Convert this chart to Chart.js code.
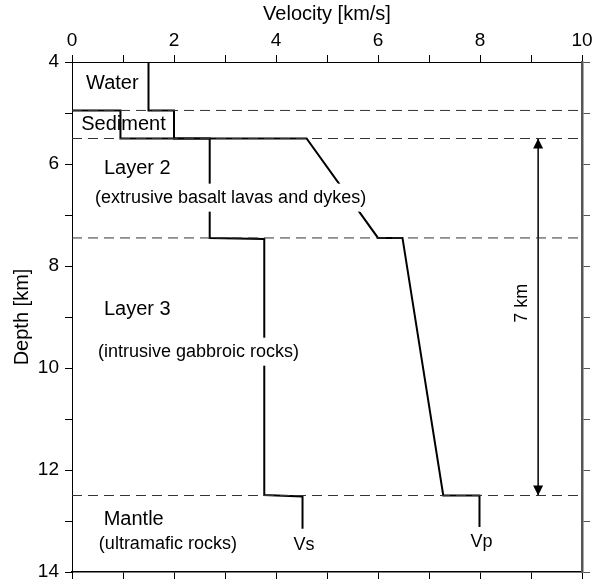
<!DOCTYPE html>
<html>
<head>
<meta charset="utf-8">
<script src="https://cdn.jsdelivr.net/npm/chart.js@4/dist/chart.umd.min.js"></script>
<style>
  html, body { margin: 0; padding: 0; background: #ffffff; }
</style>
</head>
<body>
<canvas id="profileChart" width="593" height="583"></canvas>
<script>
// Seismic velocity vs depth through oceanic crust

// S-wave profile
const vsVelocity = [0, 0.95, 0.95, 2.7, 2.7, 3.77, 3.77, 4.52, 4.52];
const vsDepth    = [4.95, 4.95, 5.5, 5.5, 7.45, 7.47, 12.49, 12.52, 13.15];

// P-wave profile
const vpVelocity = [1.5, 1.5, 2.0, 2.0, 4.6, 6.0, 6.48, 7.28, 7.99, 7.99];
const vpDepth    = [4.0, 4.95, 4.95, 5.5, 5.5, 7.45, 7.45, 12.5, 12.5, 13.12];

// layer boundaries (dashed)
const boundaryDepths = [4.95, 5.5, 7.45, 12.5];

// crust thickness arrow
const arrowVelocity = 9.14;
const arrowDepths = [5.5, 12.5];

const FONT = "'Liberation Sans', Arial, sans-serif";

// text placed in data coordinates
const layerLabels = [
    { text: 'Water', v: 0.79, d: 4.43, size: 20 },
    { text: 'Sediment', v: 1.01, d: 5.22, size: 20 },
    { text: 'Layer 2', v: 1.28, d: 6.08, size: 20 },
    { text: '(extrusive basalt lavas and dykes)', v: 3.11, d: 6.66, size: 18, mask: true },
    { text: 'Layer 3', v: 1.28, d: 8.86, size: 20 },
    { text: '(intrusive gabbroic rocks)', v: 2.48, d: 9.68, size: 18, mask: true },
    { text: 'Mantle', v: 1.21, d: 12.98, size: 20 },
    { text: '(ultramafic rocks)', v: 1.88, d: 13.45, size: 18 },
    { text: 'Vs', v: 4.55, d: 13.47, size: 18 },
    { text: 'Vp', v: 8.03, d: 13.41, size: 18 },
    { text: '7 km', v: 8.82, d: 8.73, size: 18, rotate: true }
];

const toPoints = (xs, ys) => xs.map((x, i) => ({ x: x, y: ys[i] }));

const evenOnly = v => (v % 2 === 0 ? v : '');

// fixed box sizes so the plot area lands where the original sits
const fixBox = (w, h) => s => {
    if (w !== null) s.width = w;
    if (h !== null) s.height = h;
    s.paddingTop = 0;
    s.paddingBottom = 0;
    s.paddingLeft = 0;
    s.paddingRight = 0;
};

// Draw labels, masks and arrow heads on top of the lines
const profileLabels = {
    id: 'profileLabels',
    afterDatasetsDraw(chart) {
        const ctx = chart.ctx;
        const xs = chart.scales.x;
        const ys = chart.scales.y;
        ctx.save();

        // arrow heads
        const ax = xs.getPixelForValue(arrowVelocity);
        const top = ys.getPixelForValue(arrowDepths[0]);
        const bot = ys.getPixelForValue(arrowDepths[1]);
        ctx.fillStyle = '#000';
        ctx.beginPath();
        ctx.moveTo(ax, top);
        ctx.lineTo(ax - 5, top + 10);
        ctx.lineTo(ax + 5, top + 10);
        ctx.closePath();
        ctx.fill();
        ctx.beginPath();
        ctx.moveTo(ax, bot);
        ctx.lineTo(ax - 5, bot - 10);
        ctx.lineTo(ax + 5, bot - 10);
        ctx.closePath();
        ctx.fill();

        ctx.textAlign = 'center';
        ctx.textBaseline = 'middle';
        layerLabels.forEach(l => {
            const px = xs.getPixelForValue(l.v);
            const py = ys.getPixelForValue(l.d);
            ctx.font = l.size + 'px ' + FONT;
            if (l.mask) {
                const w = ctx.measureText(l.text).width;
                ctx.fillStyle = '#fff';
                ctx.fillRect(px - w / 2 - 4, py - 14, w + 8, 28);
            }
            ctx.fillStyle = '#000';
            if (l.rotate) {
                ctx.save();
                ctx.translate(px, py);
                ctx.rotate(-Math.PI / 2);
                ctx.fillText(l.text, 0, 0);
                ctx.restore();
            } else {
                ctx.fillText(l.text, px, py);
            }
        });
        ctx.restore();
    }
};

const boundarySets = boundaryDepths.map(d => ({
    data: [{ x: 0, y: d }, { x: 10, y: d }],
    borderColor: '#333',
    borderWidth: 1,
    borderDash: [10, 6],
    showLine: true,
    pointRadius: 0
}));

new Chart(document.getElementById('profileChart'), {
    type: 'scatter',
    data: {
        datasets: [
            ...boundarySets,
            {
                label: 'Vs',
                data: toPoints(vsVelocity, vsDepth),
                borderColor: '#000',
                borderWidth: 2,
                showLine: true,
                pointRadius: 0
            },
            {
                label: 'Vp',
                data: toPoints(vpVelocity, vpDepth),
                borderColor: '#000',
                borderWidth: 2,
                showLine: true,
                pointRadius: 0
            },
            {
                label: 'thickness',
                data: arrowDepths.map(d => ({ x: arrowVelocity, y: d })),
                borderColor: '#000',
                borderWidth: 1.5,
                showLine: true,
                pointRadius: 0
            }
        ]
    },
    options: {
        responsive: false,
        animation: false,
        layout: { padding: 0 },
        plugins: {
            legend: { display: false },
            tooltip: { enabled: false }
        },
        scales: {
            x: {
                type: 'linear',
                position: 'top',
                min: 0,
                max: 10,
                ticks: {
                    stepSize: 1,
                    autoSkip: false,
                    maxRotation: 0,
                    padding: 3,
                    color: '#000',
                    font: { family: FONT, size: 19 },
                    callback: evenOnly
                },
                grid: { drawOnChartArea: false, tickLength: 7, color: '#000' },
                border: { color: '#000', width: 1 },
                title: {
                    display: true,
                    text: 'Velocity [km/s]',
                    color: '#000',
                    font: { family: FONT, size: 20 },
                    padding: { top: 2, bottom: 0 }
                },
                afterFit: fixBox(null, 62)
            },
            xBottom: {
                type: 'linear',
                position: 'bottom',
                min: 0,
                max: 10,
                ticks: { stepSize: 1, display: false },
                grid: { drawOnChartArea: false, tickLength: 7, color: '#000' },
                border: { color: '#000', width: 1.5 },
                afterFit: fixBox(null, 11)
            },
            y: {
                type: 'linear',
                position: 'left',
                reverse: true,
                min: 4,
                max: 14,
                ticks: {
                    stepSize: 1,
                    autoSkip: false,
                    padding: 6,
                    color: '#000',
                    font: { family: FONT, size: 19 },
                    callback: evenOnly
                },
                grid: { drawOnChartArea: false, tickLength: 7, color: '#000' },
                border: { color: '#000', width: 1 },
                title: {
                    display: true,
                    text: 'Depth [km]',
                    color: '#000',
                    font: { family: FONT, size: 20 },
                    padding: { top: 10, bottom: 0 }
                },
                afterFit: fixBox(72, null)
            },
            yRight: {
                type: 'linear',
                position: 'right',
                reverse: true,
                min: 4,
                max: 14,
                ticks: { stepSize: 1, display: false },
                grid: { drawOnChartArea: false, tickLength: 8, color: '#555' },
                border: { color: '#555', width: 2.5 },
                afterFit: fixBox(11, null)
            }
        }
    },
    plugins: [profileLabels]
});
</script>
</body>
</html>
